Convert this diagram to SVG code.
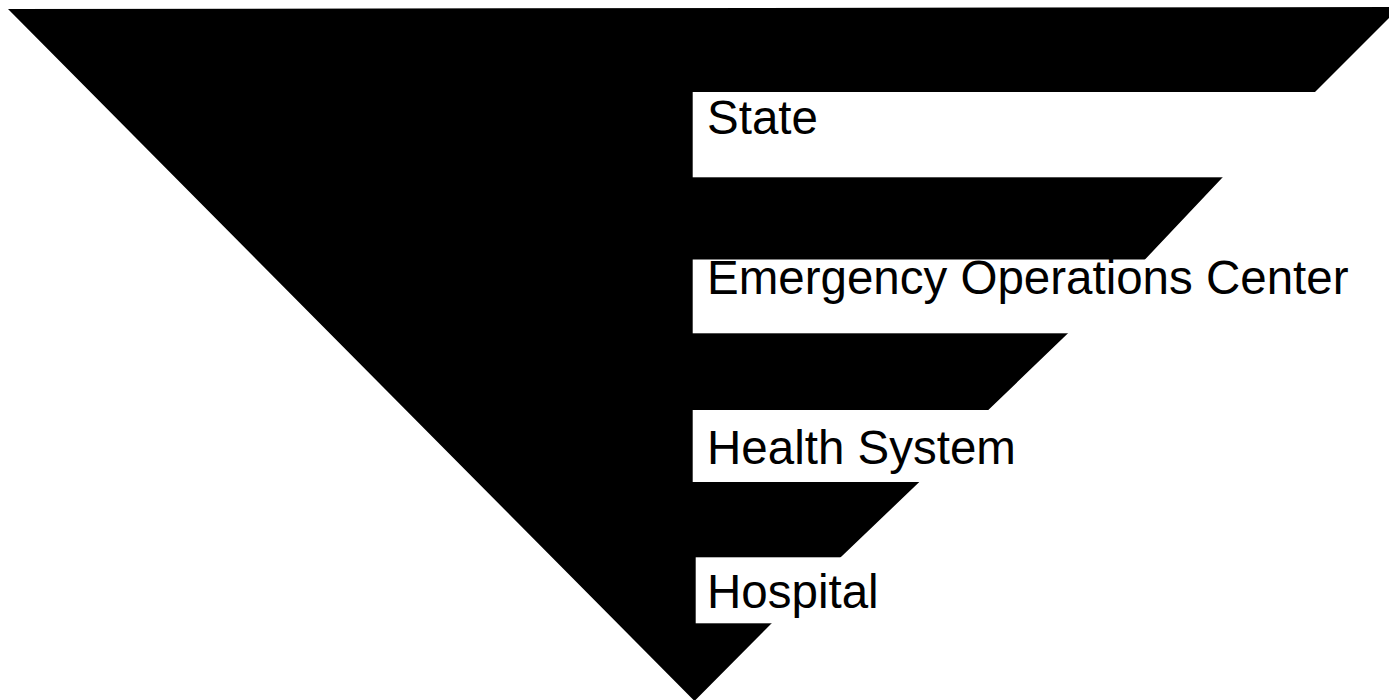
<svg xmlns="http://www.w3.org/2000/svg" width="1389" height="700" viewBox="0 0 1389 700">
  <style>
    .band { fill: #000000; stroke: none; }
    .box { fill: #ffffff; stroke: none; }
    .label { font-family: "Liberation Sans", Arial, sans-serif; font-size: 47.5px; fill: #000000; }
  </style>
  <rect x="0" y="0" width="1389" height="700" fill="#ffffff"/>
  <g id="pyramid">
    <polygon class="band" points="8,9 1400,7 1315,92 1222.7,177.3 1145,259.5 1068,333.3 988.3,410 919.3,482 840.7,557.3 771.7,623.3 694.5,701"/>
  </g>
  <g id="connectors"></g>
  <g id="level-state">
    <rect class="box" x="692.7" y="92" width="700" height="85.3"/>
    <text class="label" x="707" y="134">State</text>
  </g>
  <g id="level-eoc">
    <rect class="box" x="692.7" y="259.5" width="700" height="73.8"/>
    <text class="label" x="707" y="294">Emergency Operations Center</text>
  </g>
  <g id="level-health-system">
    <rect class="box" x="692.7" y="410" width="700" height="72"/>
    <text class="label" x="707" y="464">Health System</text>
  </g>
  <g id="level-hospital">
    <rect class="box" x="695.7" y="557.3" width="700" height="66"/>
    <text class="label" x="707" y="608">Hospital</text>
  </g>
</svg>
